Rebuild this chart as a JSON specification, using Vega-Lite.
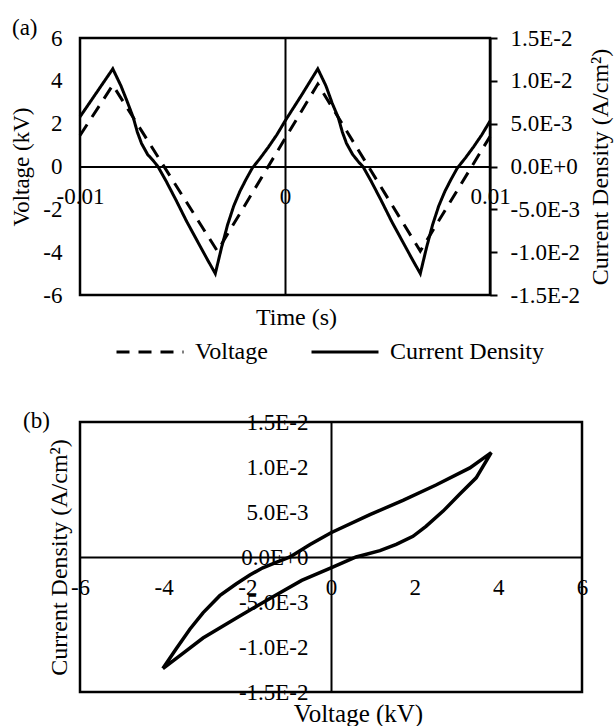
{
  "$schema": "https://vega.github.io/schema/vega-lite/v6.json",
  "padding": {"left": 8, "top": 15, "right": 0, "bottom": 0},
  "background": "white",
  "spacing": 77,
  "config": {
    "font": "Liberation Serif",
    "view": {"stroke": "black", "strokeWidth": 2.5},
    "axis": {
      "labelFont": "Liberation Serif", "labelFontSize": 23, "labelColor": "black",
      "titleFont": "Liberation Serif", "titleFontSize": 24, "titleFontWeight": "normal", "titleColor": "black",
      "domainColor": "black", "domainWidth": 2, "tickColor": "black", "grid": false,
      "labelFlush": false, "labelOverlap": false, "labelBound": false
    },
    "title": {"font": "Liberation Serif", "fontSize": 23, "fontWeight": "normal", "color": "black"},
    "line": {"color": "black", "strokeWidth": 3}
  },
  "datasets": {
    "wave": [
      {"t": -0.01, "series": "Voltage", "value": 1.45},
      {"t": -0.0084, "series": "Voltage", "value": 3.8},
      {"t": -0.0033, "series": "Voltage", "value": -3.95},
      {"t": 0.0016, "series": "Voltage", "value": 3.85},
      {"t": 0.0066, "series": "Voltage", "value": -3.95},
      {"t": 0.01, "series": "Voltage", "value": 1.4},
      {"t": -0.01, "series": "Current Density", "value": 0.0058},
      {"t": -0.0092, "series": "Current Density", "value": 0.0086},
      {"t": -0.0084, "series": "Current Density", "value": 0.0114},
      {"t": -0.008, "series": "Current Density", "value": 0.0094},
      {"t": -0.0077, "series": "Current Density", "value": 0.0076},
      {"t": -0.0074, "series": "Current Density", "value": 0.0057},
      {"t": -0.0072, "series": "Current Density", "value": 0.004},
      {"t": -0.007, "series": "Current Density", "value": 0.0027},
      {"t": -0.0067, "series": "Current Density", "value": 0.0014},
      {"t": -0.0064, "series": "Current Density", "value": 0.0006},
      {"t": -0.0062, "series": "Current Density", "value": 0.0},
      {"t": -0.0058, "series": "Current Density", "value": -0.0017},
      {"t": -0.0053, "series": "Current Density", "value": -0.004},
      {"t": -0.0048, "series": "Current Density", "value": -0.0064},
      {"t": -0.0043, "series": "Current Density", "value": -0.0086},
      {"t": -0.0038, "series": "Current Density", "value": -0.0108},
      {"t": -0.0034, "series": "Current Density", "value": -0.0125},
      {"t": -0.0031, "series": "Current Density", "value": -0.0095},
      {"t": -0.0028, "series": "Current Density", "value": -0.0068},
      {"t": -0.0025, "series": "Current Density", "value": -0.0046},
      {"t": -0.0022, "series": "Current Density", "value": -0.0029},
      {"t": -0.0019, "series": "Current Density", "value": -0.0015},
      {"t": -0.0016, "series": "Current Density", "value": -0.0002},
      {"t": -0.0012, "series": "Current Density", "value": 0.001},
      {"t": -0.0008, "series": "Current Density", "value": 0.0023},
      {"t": -0.0004, "series": "Current Density", "value": 0.0037},
      {"t": 0.0, "series": "Current Density", "value": 0.0053},
      {"t": 0.0008, "series": "Current Density", "value": 0.0083},
      {"t": 0.0016, "series": "Current Density", "value": 0.0114},
      {"t": 0.002, "series": "Current Density", "value": 0.0094},
      {"t": 0.0023, "series": "Current Density", "value": 0.0074},
      {"t": 0.0026, "series": "Current Density", "value": 0.0057},
      {"t": 0.0028, "series": "Current Density", "value": 0.004},
      {"t": 0.003, "series": "Current Density", "value": 0.0027},
      {"t": 0.0033, "series": "Current Density", "value": 0.0014},
      {"t": 0.0036, "series": "Current Density", "value": 0.0005},
      {"t": 0.0038, "series": "Current Density", "value": 0.0},
      {"t": 0.0042, "series": "Current Density", "value": -0.0017},
      {"t": 0.0047, "series": "Current Density", "value": -0.004},
      {"t": 0.0052, "series": "Current Density", "value": -0.0064},
      {"t": 0.0057, "series": "Current Density", "value": -0.0086},
      {"t": 0.0062, "series": "Current Density", "value": -0.0108},
      {"t": 0.0066, "series": "Current Density", "value": -0.0125},
      {"t": 0.0069, "series": "Current Density", "value": -0.0095},
      {"t": 0.0072, "series": "Current Density", "value": -0.0068},
      {"t": 0.0075, "series": "Current Density", "value": -0.0046},
      {"t": 0.0078, "series": "Current Density", "value": -0.0029},
      {"t": 0.0081, "series": "Current Density", "value": -0.0015},
      {"t": 0.0084, "series": "Current Density", "value": -0.0002},
      {"t": 0.0088, "series": "Current Density", "value": 0.001},
      {"t": 0.0092, "series": "Current Density", "value": 0.0023},
      {"t": 0.0096, "series": "Current Density", "value": 0.0037},
      {"t": 0.01, "series": "Current Density", "value": 0.0053}
    ],
    "loop": [
      {"i": 0, "V": -4.02, "J": -0.0124},
      {"i": 1, "V": -3.7, "J": -0.0102},
      {"i": 2, "V": -3.37, "J": -0.008},
      {"i": 3, "V": -3.06, "J": -0.0062},
      {"i": 4, "V": -2.66, "J": -0.0043},
      {"i": 5, "V": -2.27, "J": -0.003},
      {"i": 6, "V": -1.94, "J": -0.002},
      {"i": 7, "V": -1.63, "J": -0.0012},
      {"i": 8, "V": -1.31, "J": -0.0006},
      {"i": 9, "V": -0.98, "J": 0.0},
      {"i": 10, "V": -0.5, "J": 0.0014},
      {"i": 11, "V": 0.0, "J": 0.0027},
      {"i": 12, "V": 0.93, "J": 0.0047},
      {"i": 13, "V": 1.72, "J": 0.0063},
      {"i": 14, "V": 2.51, "J": 0.008},
      {"i": 15, "V": 3.32, "J": 0.0099},
      {"i": 16, "V": 3.83, "J": 0.0116},
      {"i": 17, "V": 3.47, "J": 0.0088},
      {"i": 18, "V": 3.08, "J": 0.007},
      {"i": 19, "V": 2.68, "J": 0.0051},
      {"i": 20, "V": 2.27, "J": 0.0034},
      {"i": 21, "V": 1.96, "J": 0.0023},
      {"i": 22, "V": 1.56, "J": 0.0014},
      {"i": 23, "V": 1.17, "J": 0.0007},
      {"i": 24, "V": 0.6, "J": 0.0},
      {"i": 25, "V": 0.3, "J": -0.0006},
      {"i": 26, "V": 0.0, "J": -0.0012},
      {"i": 27, "V": -0.7, "J": -0.0026},
      {"i": 28, "V": -1.46, "J": -0.0046},
      {"i": 29, "V": -2.27, "J": -0.0068},
      {"i": 30, "V": -3.06, "J": -0.009},
      {"i": 31, "V": -3.54, "J": -0.0107},
      {"i": 32, "V": -4.02, "J": -0.0124}
    ]
  },
  "vconcat": [
    {
      "width": 410,
      "height": 257,
      "title": {"text": "(a)", "anchor": "start", "frame": "group", "dx": -68, "offset": -24, "baseline": "middle"},
      "data": {"name": "wave"},
      "encoding": {
        "x": {
          "field": "t", "type": "quantitative",
          "scale": {"domain": [-0.01, 0.01], "nice": false, "zero": false},
          "axis": {
            "title": "Time (s)", "values": [-0.01, 0, 0.01], "labelExpr": "datum.value + ''",
            "offset": -128.5, "ticks": false, "tickSize": 0, "labelPadding": 19,
            "titleY": 139, "titleX": 216
          }
        },
        "strokeDash": {
          "field": "series", "type": "nominal",
          "scale": {"domain": ["Voltage", "Current Density"], "range": [[13, 9], [1, 0]]},
          "legend": {
            "orient": "none", "legendX": 35, "legendY": 279, "direction": "horizontal", "title": null,
            "symbolType": "stroke", "symbolSize": 4489, "symbolStrokeWidth": 3, "symbolStrokeColor": "black",
            "labelFont": "Liberation Serif", "labelFontSize": 24, "labelColor": "black",
            "labelOffset": 10, "columnPadding": 37
          }
        }
      },
      "layer": [
        {
          "transform": [{"filter": "datum.series === 'Voltage'"}],
          "mark": {"type": "line", "strokeWidth": 3},
          "encoding": {
            "y": {
              "field": "value", "type": "quantitative",
              "scale": {"domain": [-6, 6], "nice": false, "zero": false},
              "axis": {
                "orient": "left", "title": "Voltage (kV)", "values": [-6, -4, -2, 0, 2, 4, 6],
                "labelExpr": "datum.value + ''", "offset": -205, "ticks": false, "tickSize": 0,
                "labelPadding": 223, "titleX": -252, "titleBaseline": "bottom", "titleFontSize": 23
              }
            }
          }
        },
        {
          "transform": [{"filter": "datum.series === 'Current Density'"}],
          "mark": {"type": "line", "strokeWidth": 3},
          "encoding": {
            "y": {
              "field": "value", "type": "quantitative",
              "scale": {"domain": [-0.015, 0.015], "nice": false, "zero": false},
              "axis": {
                "orient": "right", "title": "Current Density (A/cm²)",
                "values": [-0.015, -0.01, -0.005, 0, 0.005, 0.01, 0.015],
                "labelExpr": "replace(upper(format(datum.value, '.1e')), '\u2212', '-')",
                "tickSize": 7, "tickWidth": 2, "labelPadding": 13,
                "titleAngle": 270, "titleBaseline": "top", "titlePadding": 9
              }
            }
          }
        }
      ],
      "resolve": {"scale": {"y": "independent"}}
    },
    {
      "width": 502,
      "height": 270,
      "title": {"text": "(b)", "anchor": "start", "frame": "group", "dx": -57, "offset": -33, "baseline": "middle"},
      "data": {"name": "loop"},
      "mark": {"type": "line", "strokeWidth": 3.5},
      "encoding": {
        "x": {
          "field": "V", "type": "quantitative",
          "scale": {"domain": [-6, 6], "nice": false, "zero": false},
          "axis": {
            "title": "Voltage (kV)", "values": [-6, -4, -2, 0, 2, 4, 6], "labelExpr": "datum.value + ''",
            "offset": -135, "ticks": false, "tickSize": 0, "labelPadding": 19,
            "titleY": 144, "titleX": 278, "titleFontSize": 25
          }
        },
        "y": {
          "field": "J", "type": "quantitative",
          "scale": {"domain": [-0.015, 0.015], "nice": false, "zero": false},
          "axis": {
            "title": "Current Density (A/cm²)",
            "values": [-0.015, -0.01, -0.005, 0, 0.005, 0.01, 0.015],
            "labelExpr": "replace(upper(format(datum.value, '.1e')), '\u2212', '-')",
            "offset": -251, "ticks": false, "tickSize": 0, "labelPadding": 23, "titleX": -260
          }
        },
        "order": {"field": "i", "type": "quantitative"}
      }
    }
  ]
}
